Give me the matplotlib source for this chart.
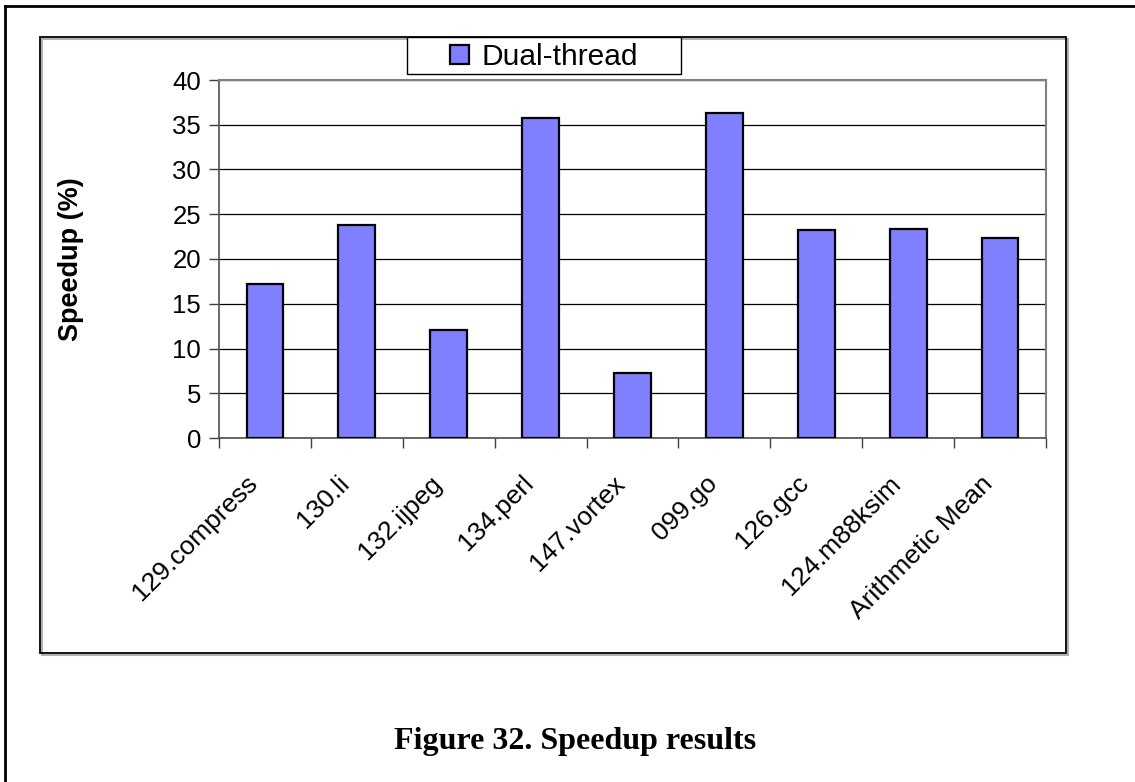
import numpy as np
import matplotlib
matplotlib.use("Agg")
import matplotlib.pyplot as plt
import matplotlib.transforms as mtransforms
from matplotlib.patches import Rectangle
from matplotlib.lines import Line2D

# Speedup per benchmark, dual-thread run
benchmarks = ["129.compress", "130.li", "132.ijpeg", "134.perl", "147.vortex",
              "099.go", "126.gcc", "124.m88ksim", "Arithmetic Mean"]
speedup = [17.2, 23.8, 12.1, 35.7, 7.3, 36.3, 23.2, 23.3, 22.4]
series_name = "Dual-thread"
y_ticks = [0, 5, 10, 15, 20, 25, 30, 35, 40]

W, H = 1135, 782
plt.rcParams["font.family"] = ["Liberation Sans", "DejaVu Sans"]

fig = plt.figure(figsize=(W / 100, H / 100), dpi=100, facecolor="white")


def fx(px):
    return px / W


def fy(py):
    return 1 - py / H


# plot area in pixel units
left, right, top, bottom = 219, 1046, 80, 438
ax = fig.add_axes([fx(left), fy(bottom), fx(right - left), fy(top) - fy(bottom)])

x = np.arange(len(benchmarks))
ax.bar(x, speedup, width=0.40, color="#8080ff", edgecolor="black",
       linewidth=1.6, zorder=3)

ax.set_xlim(-0.5, len(benchmarks) - 0.5)
ax.set_ylim(0, 40)
ax.set_yticks(y_ticks)
ax.yaxis.grid(True, color="black", linewidth=0.9, zorder=0)
ax.set_axisbelow(True)

# ticks between categories, labels under bar centres
ax.set_xticks(np.arange(len(benchmarks) + 1) - 0.5)
ax.set_xticklabels([])
ax.set_xticks(x, minor=True)
ax.set_xticklabels(benchmarks, minor=True, rotation=45, ha="right",
                   va="center", rotation_mode="anchor", fontsize=19)
ax.tick_params(axis="x", which="major", direction="out", length=7,
               width=1, color="#404040")
ax.tick_params(axis="x", which="minor", length=0, pad=30)
ax.tick_params(axis="y", direction="out", length=7, width=1,
               color="#404040", labelsize=18.5, pad=6)

shift = mtransforms.ScaledTranslation(-11 / 100, 0, fig.dpi_scale_trans)
for lab in ax.get_xticklabels(minor=True):
    lab.set_transform(lab.get_transform() + shift)

for side in ("top", "right"):
    ax.spines[side].set_color("#808080")
    ax.spines[side].set_linewidth(1.5)
for side in ("left", "bottom"):
    ax.spines[side].set_color("#505050")
    ax.spines[side].set_linewidth(1.2)

ax.set_ylabel("Speedup (%)", fontsize=19.5, fontweight="bold")
ax.yaxis.set_label_coords((84 - left) / (right - left), 0.5)

# legend box sitting on the top edge of the chart frame
fig.add_artist(Rectangle((fx(407), fy(74)), fx(681 - 407), fy(37) - fy(74),
                         transform=fig.transFigure, facecolor="white",
                         edgecolor="black", linewidth=1.0, zorder=5))
leg = fig.legend([Rectangle((0, 0), 1, 1, facecolor="#8080ff",
                            edgecolor="black", linewidth=1.6)],
                 [series_name], loc="center",
                 bbox_to_anchor=(fx(544), fy(57)), frameon=False,
                 fontsize=21.5, handlelength=0.65, handleheight=0.65,
                 handletextpad=0.4, borderpad=0.1)
leg.set_zorder(6)

# chart frame with a light shadow
fig.add_artist(Rectangle((fx(42), fy(655)), fx(1026), fy(37) - fy(653),
                         transform=fig.transFigure, fill=False,
                         edgecolor="#b0b0b0", linewidth=1.5, zorder=1))
fig.add_artist(Rectangle((fx(40), fy(653)), fx(1026), fy(37) - fy(653),
                         transform=fig.transFigure, fill=False,
                         edgecolor="black", linewidth=1.3, zorder=2))

# page border (top and left edges only)
fig.add_artist(Line2D([fx(5), 1], [fy(6), fy(6)], transform=fig.transFigure,
                      color="black", linewidth=2))
fig.add_artist(Line2D([fx(5), fx(5)], [fy(6), 0], transform=fig.transFigure,
                      color="black", linewidth=2))

fig.text(fx(575), fy(742), "Figure 32. Speedup results", ha="center",
         va="center", fontsize=23, fontweight="bold",
         family=["Liberation Serif", "DejaVu Serif"])

fig.savefig("out.png", dpi=100, facecolor="white")
